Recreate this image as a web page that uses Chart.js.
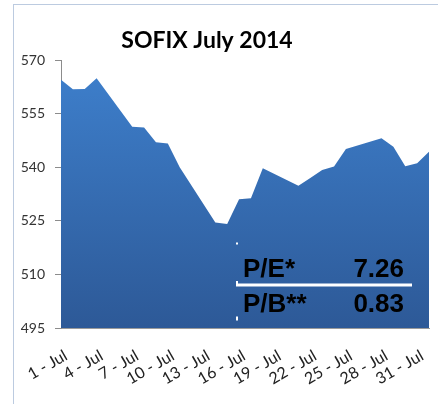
<!DOCTYPE html>
<html>
<head>
<meta charset="utf-8">
<script src="https://cdn.jsdelivr.net/npm/chart.js@4/dist/chart.umd.min.js"></script>
<style>
  body { margin: 0; background: #fff; }
  #wrap { position: relative; width: 438px; height: 404px; overflow: hidden; }
  #frame { position: absolute; left: 13px; top: 4px; width: 440px; height: 420px;
           border: 1px solid #bccbe0; pointer-events: none; }
</style>
</head>
<body>
<div id="wrap">
  <canvas id="chart" width="438" height="404"></canvas>
  <div id="frame"></div>
</div>
<script>
const chartTitle = 'SOFIX July 2014';
// trading days of July 2014 (32 = 1 Aug)
const tradingDays = [1, 2, 3, 4, 7, 8, 9, 10, 11, 14, 15, 16, 17, 18, 21, 22, 23, 24, 25, 28, 29, 30, 31, 32];
const sofixValues = [564.5, 561.8, 561.9, 564.9, 551.3, 551.1, 547.0, 546.6, 540.0, 524.5, 524.1, 531.0,
  531.3, 539.7, 534.8, 537.0, 539.2, 540.2, 545.1, 548.1, 545.7, 540.3, 541.1, 544.3];
const tickDays = [1, 4, 7, 10, 13, 16, 19, 22, 25, 28, 31];
const yTicks = [495, 510, 525, 540, 555, 570];
const ratioNames = ['P/E*', 'P/B**'];
const ratioValues = ['7.26', '0.83'];

const areaGradient = (context) => {
  const { ctx, chartArea } = context.chart;
  if (!chartArea) return '#3a76c0';
  const g = ctx.createLinearGradient(0, chartArea.top, 0, chartArea.bottom);
  g.addColorStop(0, '#3e80cd');
  g.addColorStop(1, '#2d5997');
  return g;
};

// soft shadow under the area, like the spreadsheet chart
const areaShadow = {
  id: 'areaShadow',
  beforeDatasetDraw(chart) {
    const ctx = chart.ctx;
    ctx.save();
    ctx.shadowColor = 'rgba(0,0,0,0.35)';
    ctx.shadowBlur = 3;
    ctx.shadowOffsetX = 2;
    ctx.shadowOffsetY = 2;
  },
  afterDatasetDraw(chart) {
    chart.ctx.restore();
  },
};

const titleText = {
  id: 'titleText',
  afterDraw(chart) {
    const ctx = chart.ctx;
    ctx.save();
    ctx.font = 'bold 23px Lato';
    ctx.fillStyle = '#000';
    ctx.textAlign = 'center';
    ctx.textBaseline = 'alphabetic';
    ctx.fillText(chartTitle, 207, 48);
    ctx.restore();
  },
};

const ratioBox = {
  id: 'ratioBox',
  afterDraw(chart) {
    const ctx = chart.ctx;
    ctx.save();
    ctx.fillStyle = '#fff';
    ctx.fillRect(236, 283.5, 176, 3);
    ctx.fillRect(236, 281, 2, 5);
    ctx.fillRect(236, 316.5, 2, 4);
    ctx.fillRect(236, 242.5, 2, 2);
    ctx.font = 'bold 26px "Liberation Sans"';
    ctx.fillStyle = '#000';
    const rows = [277, 311.5];
    ratioNames.forEach((name, i) => {
      ctx.textAlign = 'left';
      ctx.fillText(name, 243, rows[i]);
      ctx.textAlign = 'right';
      ctx.fillText(ratioValues[i], 404, rows[i]);
    });
    ctx.restore();
  },
};

new Chart(document.getElementById('chart'), {
  type: 'line',
  data: {
    datasets: [
      {
        label: 'SOFIX',
        data: tradingDays.map((d, i) => ({ x: d, y: sofixValues[i] })),
        fill: 'start',
        backgroundColor: areaGradient,
        borderWidth: 0,
        pointRadius: 0,
        tension: 0,
      },
    ],
  },
  options: {
    responsive: false,
    animation: false,
    layout: {
      padding: { top: 60, right: 9, bottom: 0, left: 0 },
    },
    plugins: {
      legend: { display: false },
      tooltip: { enabled: false },
    },
    scales: {
      x: {
        type: 'linear',
        min: 1,
        max: 32,
        afterBuildTicks: (axis) => {
          axis.ticks = tickDays.map((v) => ({ value: v }));
        },
        afterFit: (axis) => { axis.height = 76; },
        grid: { display: false },
        border: { display: true, color: '#9a9a9a', width: 1 },
        ticks: {
          autoSkip: false,
          minRotation: 30,
          maxRotation: 30,
          padding: 10,
          labelOffset: 5,
          color: '#222',
          font: { family: 'Lato', size: 16 },
          callback: (v) => v + ' - Jul',
        },
      },
      y: {
        min: 495,
        max: 570,
        afterBuildTicks: (axis) => {
          axis.ticks = yTicks.map((v) => ({ value: v }));
        },
        afterFit: (axis) => { axis.width = 61; },
        grid: { drawOnChartArea: false, tickLength: 6, color: '#8c8c8c' },
        border: { display: true, color: '#8c8c8c', width: 1 },
        ticks: {
          padding: 10,
          color: '#333',
          font: { family: 'Lato', size: 14 },
        },
      },
    },
  },
  plugins: [areaShadow, titleText, ratioBox],
});
</script>
</body>
</html>
